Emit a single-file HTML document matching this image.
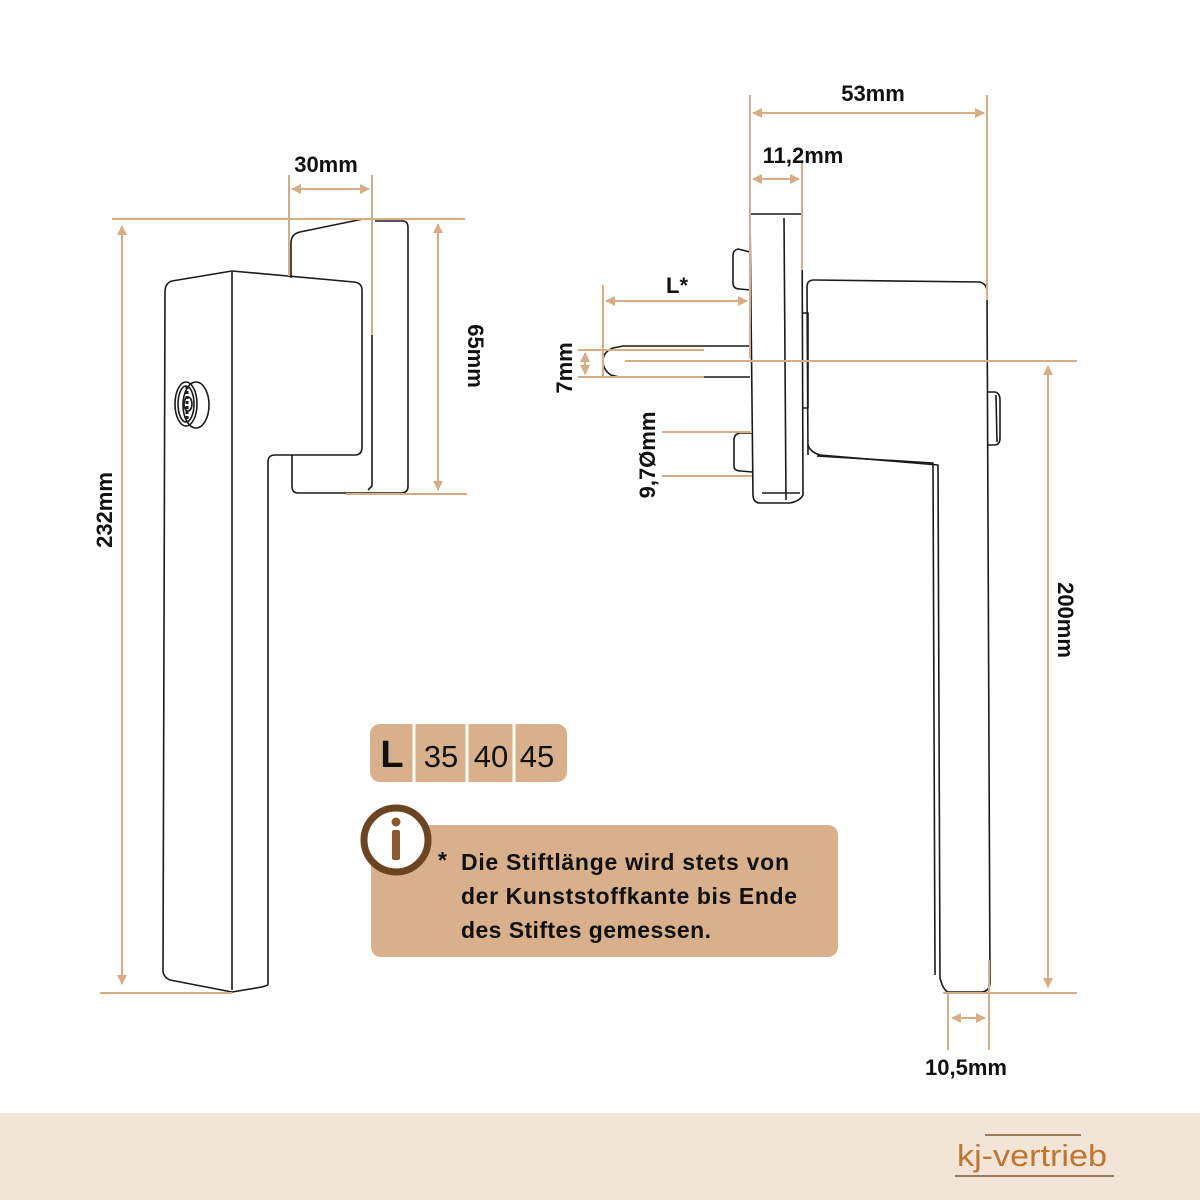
<!DOCTYPE html>
<html><head><meta charset="utf-8"><style>
html,body{margin:0;padding:0;background:#fff;}
svg{display:block;}
text{font-family:"Liberation Sans",sans-serif;}
</style></head><body>
<svg width="1200" height="1200" viewBox="0 0 1200 1200" xmlns="http://www.w3.org/2000/svg">
<defs>
<marker id="a" viewBox="0 0 10 10" refX="9" refY="5" markerWidth="5" markerHeight="5" orient="auto-start-reverse"><path d="M0,0 L10,5 L0,10 z" fill="#d8ad85"/></marker>
</defs>
<rect x="0" y="0" width="1200" height="1200" fill="#fff"/>
<rect x="0" y="1113" width="1200" height="87" fill="#f2e4d6"/>

<!-- LEFT HANDLE -->
<g fill="none" stroke="#1a1a1a" stroke-width="1.6" stroke-linejoin="round">
  <path d="M291,278 L291,243 Q291,234 300,232 L363,219 L374,219"/>
  <path d="M375,221 L403,221 Q408,221 408,228 L408,486 Q408,493 401,493 L298,493 Q292,493 292,486 L292,455"/>
  <path d="M372,222 L372,486 L368,490"/>
  <path d="M268,985 L268,462 Q268,455 275,455 L355,455 Q362,455 362,447 L362,290 Q362,283 354,282 L232,271 L172,281 Q165,283 165,292 L163,970 Q163,977 170,980 L232,992 L262,987 Q268,985 268,985"/>
  <path d="M232,272 L232,990"/>
  <ellipse cx="196" cy="405" rx="13" ry="23"/>
  <ellipse cx="186" cy="404" rx="11" ry="22"/>
  <ellipse cx="186" cy="404" rx="8" ry="18"/>
  <path d="M187,386 L187,422" stroke-width="3" stroke-dasharray="3,2"/>
  <ellipse cx="188" cy="404" rx="4" ry="7"/>
</g>

<!-- LEFT DIMENSIONS -->
<g stroke="#d8ad85" stroke-width="2" fill="none">
  <line x1="112" y1="219" x2="465" y2="219"/>
  <line x1="100" y1="993" x2="232" y2="993"/>
  <line x1="122" y1="226" x2="122" y2="984" marker-start="url(#a)" marker-end="url(#a)"/>
  <line x1="289" y1="175" x2="289" y2="276"/>
  <line x1="372" y1="175" x2="372" y2="335"/>
  <line x1="292" y1="189" x2="369" y2="189" marker-start="url(#a)" marker-end="url(#a)"/>
  <line x1="438" y1="224" x2="438" y2="490" marker-start="url(#a)" marker-end="url(#a)"/>
  <line x1="346" y1="494" x2="467" y2="494"/>
</g>
<g font-weight="bold" font-size="22" fill="#111">
  <text x="326" y="172" text-anchor="middle">30mm</text>
  <text transform="translate(112,510) rotate(-90)" text-anchor="middle">232mm</text>
  <text transform="translate(468,356) rotate(90)" text-anchor="middle">65mm</text>
</g>

<!-- RIGHT HANDLE -->
<g fill="none" stroke="#1a1a1a" stroke-width="1.6" stroke-linejoin="round">
  <path d="M750,214 L802,214 L803,495 Q800,501 790,503 L760,503 Q754,503 753,496 L750,214"/>
  <path d="M784,218 L786,500"/>
  <path d="M762,493 L800,493"/>
  <path d="M750,252 L738,249 Q733,250 733,256 L733,283 Q733,289 740,289 L750,290"/>
  <path d="M752,433 L740,433 Q734,434 734,440 L734,466 Q734,471 741,471 L752,472"/>
  <path d="M803,313 L808,313 L808,408 L803,408"/>
  <path d="M808,455 L807,287 Q807,280 814,280 L980,282 Q987,284 987,292 L990,982 Q990,991 982,992 L948,992 Q943,990 940,978 L938,465 L820,455 Q810,452 808,445"/>
  <path d="M817,456 L933,463 L935,975"/>
  <path d="M988,392 L995,392 Q1000,393 1000,400 L1000,438 Q1000,445 994,445 L988,445"/>
  <path d="M996,395 L997,442"/>
  <path d="M750,346 L623,346 L613,348 Q603,352 603,361 Q603,370 611,375 L619,377 L750,377"/>
</g>

<!-- RIGHT DIMENSIONS -->
<g stroke="#d8ad85" stroke-width="2" fill="none">
  <line x1="750" y1="95" x2="750" y2="214"/>
  <line x1="987" y1="95" x2="987" y2="300"/>
  <line x1="753" y1="113" x2="984" y2="113" marker-start="url(#a)" marker-end="url(#a)"/>
  <line x1="802" y1="160" x2="802" y2="270"/>
  <line x1="753" y1="179" x2="799" y2="179" marker-start="url(#a)" marker-end="url(#a)"/>
  <line x1="603" y1="285" x2="603" y2="376"/>
  <line x1="606" y1="301" x2="747" y2="301" marker-start="url(#a)" marker-end="url(#a)"/>
  <line x1="750" y1="214" x2="750" y2="358"/>
  <line x1="578" y1="350" x2="704" y2="350"/>
  <line x1="578" y1="377" x2="704" y2="377"/>
  <line x1="585" y1="353" x2="585" y2="374" marker-start="url(#a)" marker-end="url(#a)"/>
  <line x1="625" y1="361" x2="1077" y2="361"/>
  <line x1="662" y1="432" x2="752" y2="432"/>
  <line x1="662" y1="476" x2="752" y2="476"/>
  <line x1="1048" y1="366" x2="1048" y2="987" marker-start="url(#a)" marker-end="url(#a)"/>
  <line x1="943" y1="993" x2="1077" y2="993"/>
  <line x1="948" y1="993" x2="948" y2="1050"/>
  <line x1="989" y1="960" x2="989" y2="1050"/>
  <line x1="952" y1="1018" x2="985" y2="1018" marker-start="url(#a)" marker-end="url(#a)"/>
</g>
<g font-weight="bold" font-size="22" fill="#111">
  <text x="873" y="101" text-anchor="middle">53mm</text>
  <text x="803" y="163" text-anchor="middle">11,2mm</text>
  <text x="677" y="293" text-anchor="middle">L*</text>
  <text transform="translate(572,368) rotate(-90)" text-anchor="middle">7mm</text>
  <text transform="translate(655,455) rotate(-90)" text-anchor="middle">9,7Ømm</text>
  <text transform="translate(1058,620) rotate(90)" text-anchor="middle">200mm</text>
  <text x="966" y="1075" text-anchor="middle">10,5mm</text>
</g>

<!-- TABLE -->
<rect x="370" y="724" width="197" height="58" rx="10" fill="#d8b08b"/>
<g stroke="#fff" stroke-width="3">
  <line x1="414" y1="724" x2="414" y2="782"/>
  <line x1="467" y1="724" x2="467" y2="782"/>
  <line x1="514" y1="724" x2="514" y2="782"/>
</g>
<text x="392" y="767" text-anchor="middle" font-weight="bold" font-size="38" fill="#111">L</text>
<g font-size="31" fill="#111">
  <text x="441" y="767" text-anchor="middle">35</text>
  <text x="491" y="767" text-anchor="middle">40</text>
  <text x="537" y="767" text-anchor="middle">45</text>
</g>

<!-- INFO BOX -->
<rect x="371" y="825" width="467" height="132" rx="10" fill="#d8b08b"/>
<circle cx="396" cy="840" r="32" fill="#fff" stroke="#6b4522" stroke-width="7"/>
<circle cx="396" cy="822" r="4.5" fill="#8a5a2e"/>
<rect x="392" y="830" width="8" height="30" rx="2" fill="#8a5a2e"/>
<g font-weight="bold" font-size="23" fill="#111">
  <text x="438" y="868">*</text>
  <text x="461" y="870" textLength="328" lengthAdjust="spacing">Die Stiftlänge wird stets von</text>
  <text x="461" y="904" textLength="336" lengthAdjust="spacing">der Kunststoffkante bis Ende</text>
  <text x="461" y="938" textLength="250" lengthAdjust="spacing">des Stiftes gemessen.</text>
</g>

<!-- LOGO -->
<line x1="985" y1="1135" x2="1081" y2="1135" stroke="#7a5a3a" stroke-width="1.5"/>
<line x1="955" y1="1176" x2="1114" y2="1176" stroke="#7a5a3a" stroke-width="1.5"/>
<text x="957" y="1166" font-size="31" fill="#c0762f" textLength="150" lengthAdjust="spacingAndGlyphs">kj-vertrieb</text>
</svg>
</body></html>
